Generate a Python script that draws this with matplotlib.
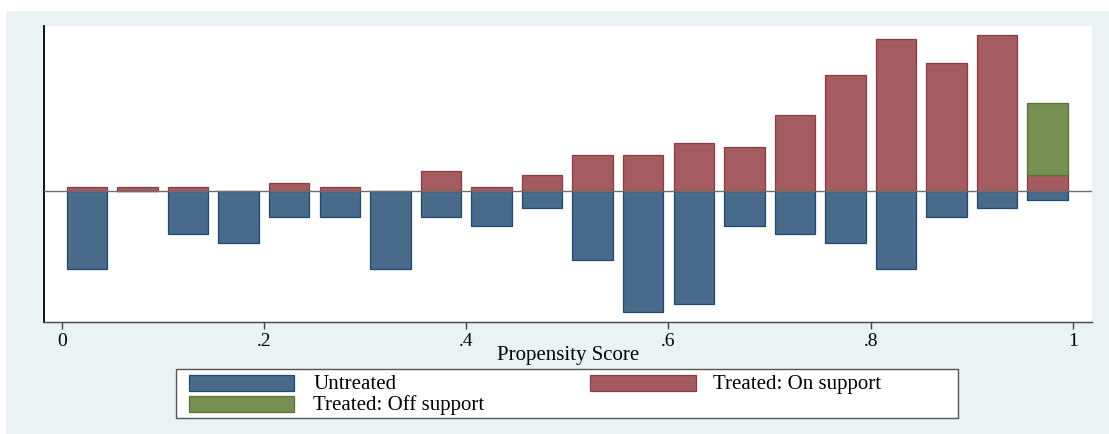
import numpy as np
import matplotlib
matplotlib.use("Agg")
import matplotlib.pyplot as plt
from matplotlib.patches import Rectangle

# Counts per propensity-score bin (20 bins of width 0.05 on [0, 1])
untreated = [9, 0, 5, 6, 3, 3, 9, 3, 4, 2, 8, 14, 13, 4, 5, 6, 9, 3, 2, 1]
treated_on = [1, 1, 1, 0, 2, 1, 0, 5, 1, 4, 9, 9, 12, 11, 19, 29, 38, 32, 39, 4]
treated_off = [0, 0, 0, 0, 0, 0, 0, 0, 0, 0, 0, 0, 0, 0, 0, 0, 0, 0, 0, 18]
tick_values = [0, 0.2, 0.4, 0.6, 0.8, 1.0]
tick_labels = ["0", ".2", ".4", ".6", ".8", "1"]
legend_labels = ["Untreated", "Treated: On support", "Treated: Off support"]

c_blue, e_blue = "#486B8B", "#1F4A70"
c_red, e_red = "#A45C60", "#8E3A40"
c_green, e_green = "#768F52", "#56742F"
bg = "#EAF2F3"

plt.rcParams["font.family"] = ["Liberation Serif", "DejaVu Serif"]

W, H = 1109, 434
fig = plt.figure(figsize=(W / 100, H / 100), dpi=100, facecolor="white")


def fx(px):
    return px / W


def fy(py):
    return 1 - py / H


# graph region background
fig.patches.append(Rectangle((fx(6), 0), 1 - fx(6), fy(11),
                             transform=fig.transFigure, facecolor=bg,
                             edgecolor="none", zorder=-10))

ax = fig.add_axes([fx(43.8), fy(321.7), fx(1091.7 - 43.8), (321.7 - 26) / H])
ax.set_facecolor("white")

edges = np.linspace(0, 1, len(untreated) + 1)
centers = (edges[:-1] + edges[1:]) / 2
width = 0.8 * (edges[1] - edges[0])

n_treated = sum(treated_on) + sum(treated_off)
n_untreated = sum(untreated)
f_on = np.array(treated_on) / n_treated
f_off = np.array(treated_off) / n_treated
f_un = -np.array(untreated) / n_untreated

lw = 0.9
ax.bar(centers, f_un, width=width, color=c_blue, edgecolor=e_blue, linewidth=lw, zorder=2)
mask_on = np.array(treated_on) > 0
ax.bar(centers[mask_on], f_on[mask_on], width=width, color=c_red, edgecolor=e_red,
       linewidth=lw, zorder=2)
mask_off = np.array(treated_off) > 0
ax.bar(centers[mask_off], f_off[mask_off], bottom=f_on[mask_off], width=width,
       color=c_green, edgecolor=e_green, linewidth=lw, zorder=2)
ax.axhline(0, color="#6E6E6E", linewidth=1.0, zorder=3)

ax.set_xlim(-0.0177, 1.0185)
ax.set_ylim(-0.1385, 0.1748)

for s in ("top", "right"):
    ax.spines[s].set_visible(False)
ax.spines["left"].set_color("black")
ax.spines["left"].set_linewidth(1.3)
ax.spines["bottom"].set_color("#444444")
ax.spines["bottom"].set_linewidth(1.0)
ax.set_yticks([])
ax.set_xticks(tick_values)
ax.set_xticklabels(tick_labels)
ax.tick_params(axis="x", direction="out", length=5, width=1, color="#444444",
               labelsize=14, pad=3)
ax.set_xlabel("Propensity Score", fontsize=15, labelpad=-3)

# legend box: two columns, Untreated / On support on the first row
fig.patches.append(Rectangle((fx(176), fy(418.3)), fx(958 - 176), (418.3 - 369.3) / H,
                             transform=fig.transFigure, facecolor="white",
                             edgecolor="#555555", linewidth=1.0, zorder=5))
entries = [
    (legend_labels[0], c_blue, e_blue, 188.7, 375.3, 313.0, 389.3),
    (legend_labels[1], c_red, e_red, 590.0, 375.3, 712.7, 389.3),
    (legend_labels[2], c_green, e_green, 188.7, 396.0, 313.0, 410.0),
]
sw_w, sw_h = 105.6, 15.5
for label, fc, ec, sx, sy, tx, ty in entries:
    fig.patches.append(Rectangle((fx(sx), fy(sy + sw_h)), fx(sw_w), sw_h / H,
                                 transform=fig.transFigure, facecolor=fc,
                                 edgecolor=ec, linewidth=lw, zorder=6))
    fig.text(fx(tx), fy(ty), label, fontsize=15, ha="left", va="baseline", zorder=7)

fig.savefig("out.png", dpi=100, facecolor=fig.get_facecolor())
